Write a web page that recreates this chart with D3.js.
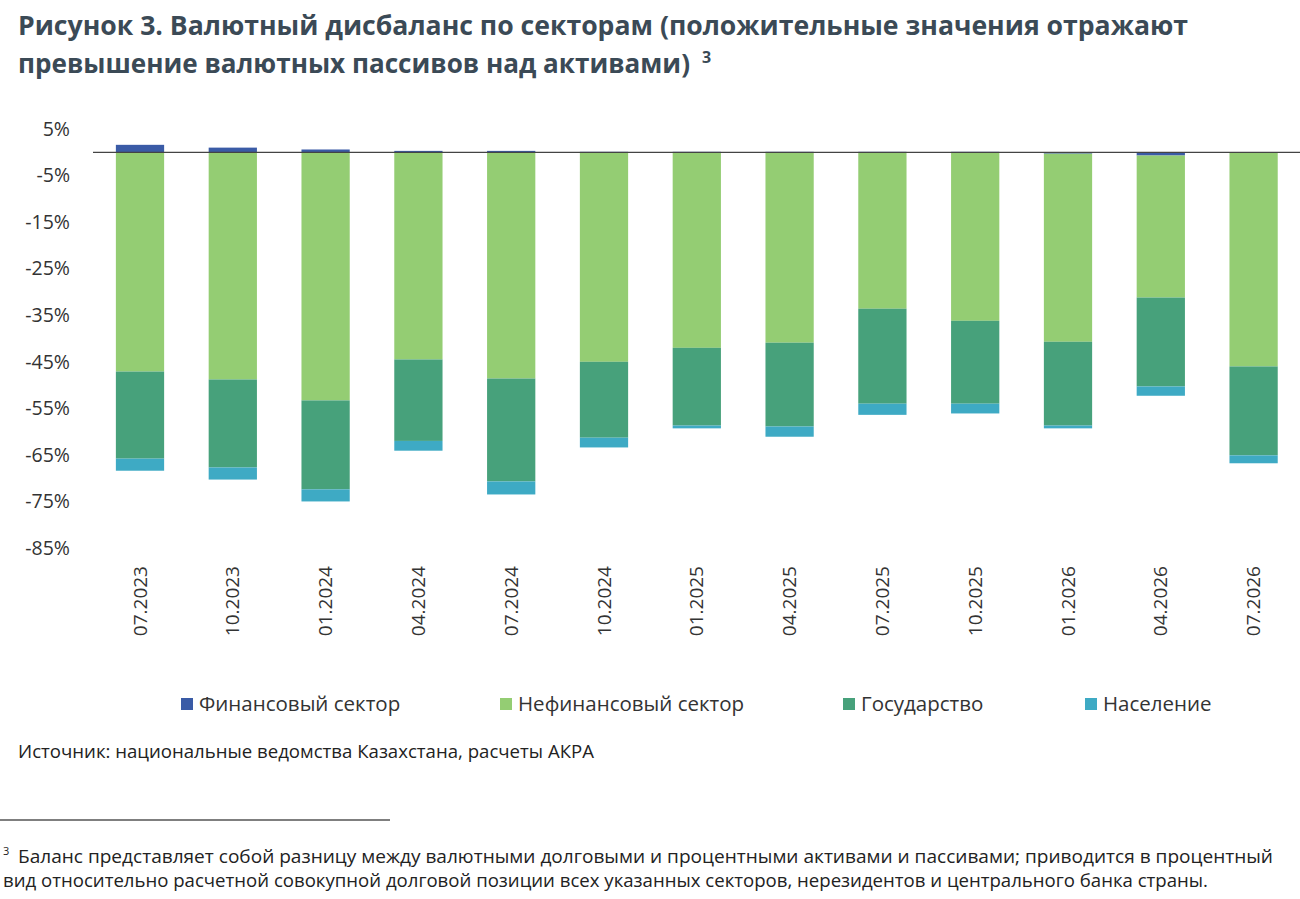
<!DOCTYPE html>
<html><head><meta charset="utf-8">
<script src="https://cdn.jsdelivr.net/npm/d3@7/dist/d3.min.js"></script>
<style>body{margin:0;background:#fff;font-family:"Open Sans","Noto Sans",sans-serif;}</style>
</head><body>
<svg id="chart" width="1300" height="899"></svg>
<script>
var categories = ["07.2023","10.2023","01.2024","04.2024","07.2024","10.2024","01.2025","04.2025","07.2025","10.2025","01.2026","04.2026","07.2026"];
var financial = [1.6, 1.0, 0.6, 0.3, 0.3, 0.1, 0.1, 0.1, 0.1, 0.1, -0.3, -0.7, 0];
var nonfinancial = [-47.1, -48.8, -53.3, -44.5, -48.6, -45.0, -42.0, -40.9, -33.6, -36.2, -40.4, -30.5, -46.0];
var government = [-18.7, -18.9, -19.1, -17.5, -22.1, -16.3, -16.7, -18.0, -20.4, -17.8, -18.0, -19.1, -19.1];
var population = [-2.6, -2.6, -2.6, -2.1, -2.8, -2.1, -0.6, -2.2, -2.4, -2.1, -0.6, -2.0, -1.7];
var tickValues = [5, -5, -15, -25, -35, -45, -55, -65, -75, -85];

var series = [
	{name:"Финансовый сектор", values:financial, color:"#3a5ba6"},
	{name:"Нефинансовый сектор", values:nonfinancial, color:"#94cd73"},
	{name:"Государство", values:government, color:"#47a17b"},
	{name:"Население", values:population, color:"#3eaac4"}
];

var svg = d3.select("#chart");
var textColor = "#333";

svg.append("text").attr("x",18).attr("y",35).attr("font-size",26).attr("font-weight","bold")
	.attr("fill","#3b4a56").attr("textLength",1170).attr("lengthAdjust","spacingAndGlyphs")
	.text("Рисунок 3. Валютный дисбаланс по секторам (положительные значения отражают");
svg.append("text").attr("x",18).attr("y",73).attr("font-size",26).attr("font-weight","bold")
	.attr("fill","#3b4a56").attr("textLength",672).attr("lengthAdjust","spacingAndGlyphs")
	.text("превышение валютных пассивов над активами)");
svg.append("text").attr("x",702).attr("y",63).attr("font-size",16).attr("font-weight","bold")
	.attr("fill","#3b4a56").text("3");

var y = d3.scaleLinear().domain([5,-85]).range([129,548]);
var x = d3.scaleBand().domain(categories).range([93.6,1300]).paddingInner(0.48).paddingOuter(0.24);

// y tick labels
svg.append("g").selectAll("text").data(tickValues).join("text")
	.attr("x",70).attr("y",function(d){return y(d);}).attr("dy","0.35em")
	.attr("text-anchor","end").attr("font-size",19.5).attr("fill",textColor)
	.text(function(d){return d + "%";});

// stacked bars: positives stack up from 0, negatives down from 0
var gBars = svg.append("g");
categories.forEach(function(c, i){
	var pos = 0, neg = 0;
	series.forEach(function(s){
		var v = s.values[i];
		var y0, y1;
		if(v >= 0){ y0 = pos; y1 = pos + v; pos = y1; }
		else { y0 = neg; y1 = neg + v; neg = y1; }
		gBars.append("rect")
			.attr("x", x(c)).attr("width", x.bandwidth())
			.attr("y", y(Math.max(y0,y1)))
			.attr("height", Math.abs(y(y0) - y(y1)))
			.attr("fill", s.color);
	});
});

// zero line
svg.append("line").attr("x1",93).attr("x2",1300).attr("y1",y(0)).attr("y2",y(0))
	.attr("stroke","#444").attr("stroke-width",1.2);

// x labels rotated
svg.append("g").selectAll("text").data(categories).join("text")
	.attr("transform",function(d){return "translate(" + (x(d)+x.bandwidth()/2) + ",566) rotate(-90)";})
	.attr("dy","0.35em").attr("text-anchor","end").attr("font-size",19).attr("fill",textColor)
	.text(function(d){return d;});

// legend
var legendX = [181, 500, 843, 1085];
var lg = svg.append("g");
series.forEach(function(s, i){
	lg.append("rect").attr("x",legendX[i]).attr("y",698).attr("width",12).attr("height",12).attr("fill",s.color);
	lg.append("text").attr("x",legendX[i]+18).attr("y",704).attr("dy","0.35em")
		.attr("font-size",20.5).attr("fill",textColor).text(s.name);
});

svg.append("text").attr("x",18).attr("y",758).attr("font-size",18).attr("fill","#222")
	.attr("textLength",576).attr("lengthAdjust","spacingAndGlyphs")
	.text("Источник: национальные ведомства Казахстана, расчеты АКРА");

svg.append("line").attr("x1",0).attr("x2",390).attr("y1",820).attr("y2",820).attr("stroke","#000").attr("stroke-width",1.2);

svg.append("text").attr("x",3).attr("y",855).attr("font-size",11).attr("fill","#222").text("3");
svg.append("text").attr("x",18).attr("y",863).attr("font-size",18).attr("fill","#222")
	.attr("textLength",1255).attr("lengthAdjust","spacingAndGlyphs")
	.text("Баланс представляет собой разницу между валютными долговыми и процентными активами и пассивами; приводится в процентный");
svg.append("text").attr("x",3).attr("y",887).attr("font-size",18).attr("fill","#222")
	.attr("textLength",1205).attr("lengthAdjust","spacingAndGlyphs")
	.text("вид относительно расчетной совокупной долговой позиции всех указанных секторов, нерезидентов и центрального банка страны.");
</script>
</body></html>
